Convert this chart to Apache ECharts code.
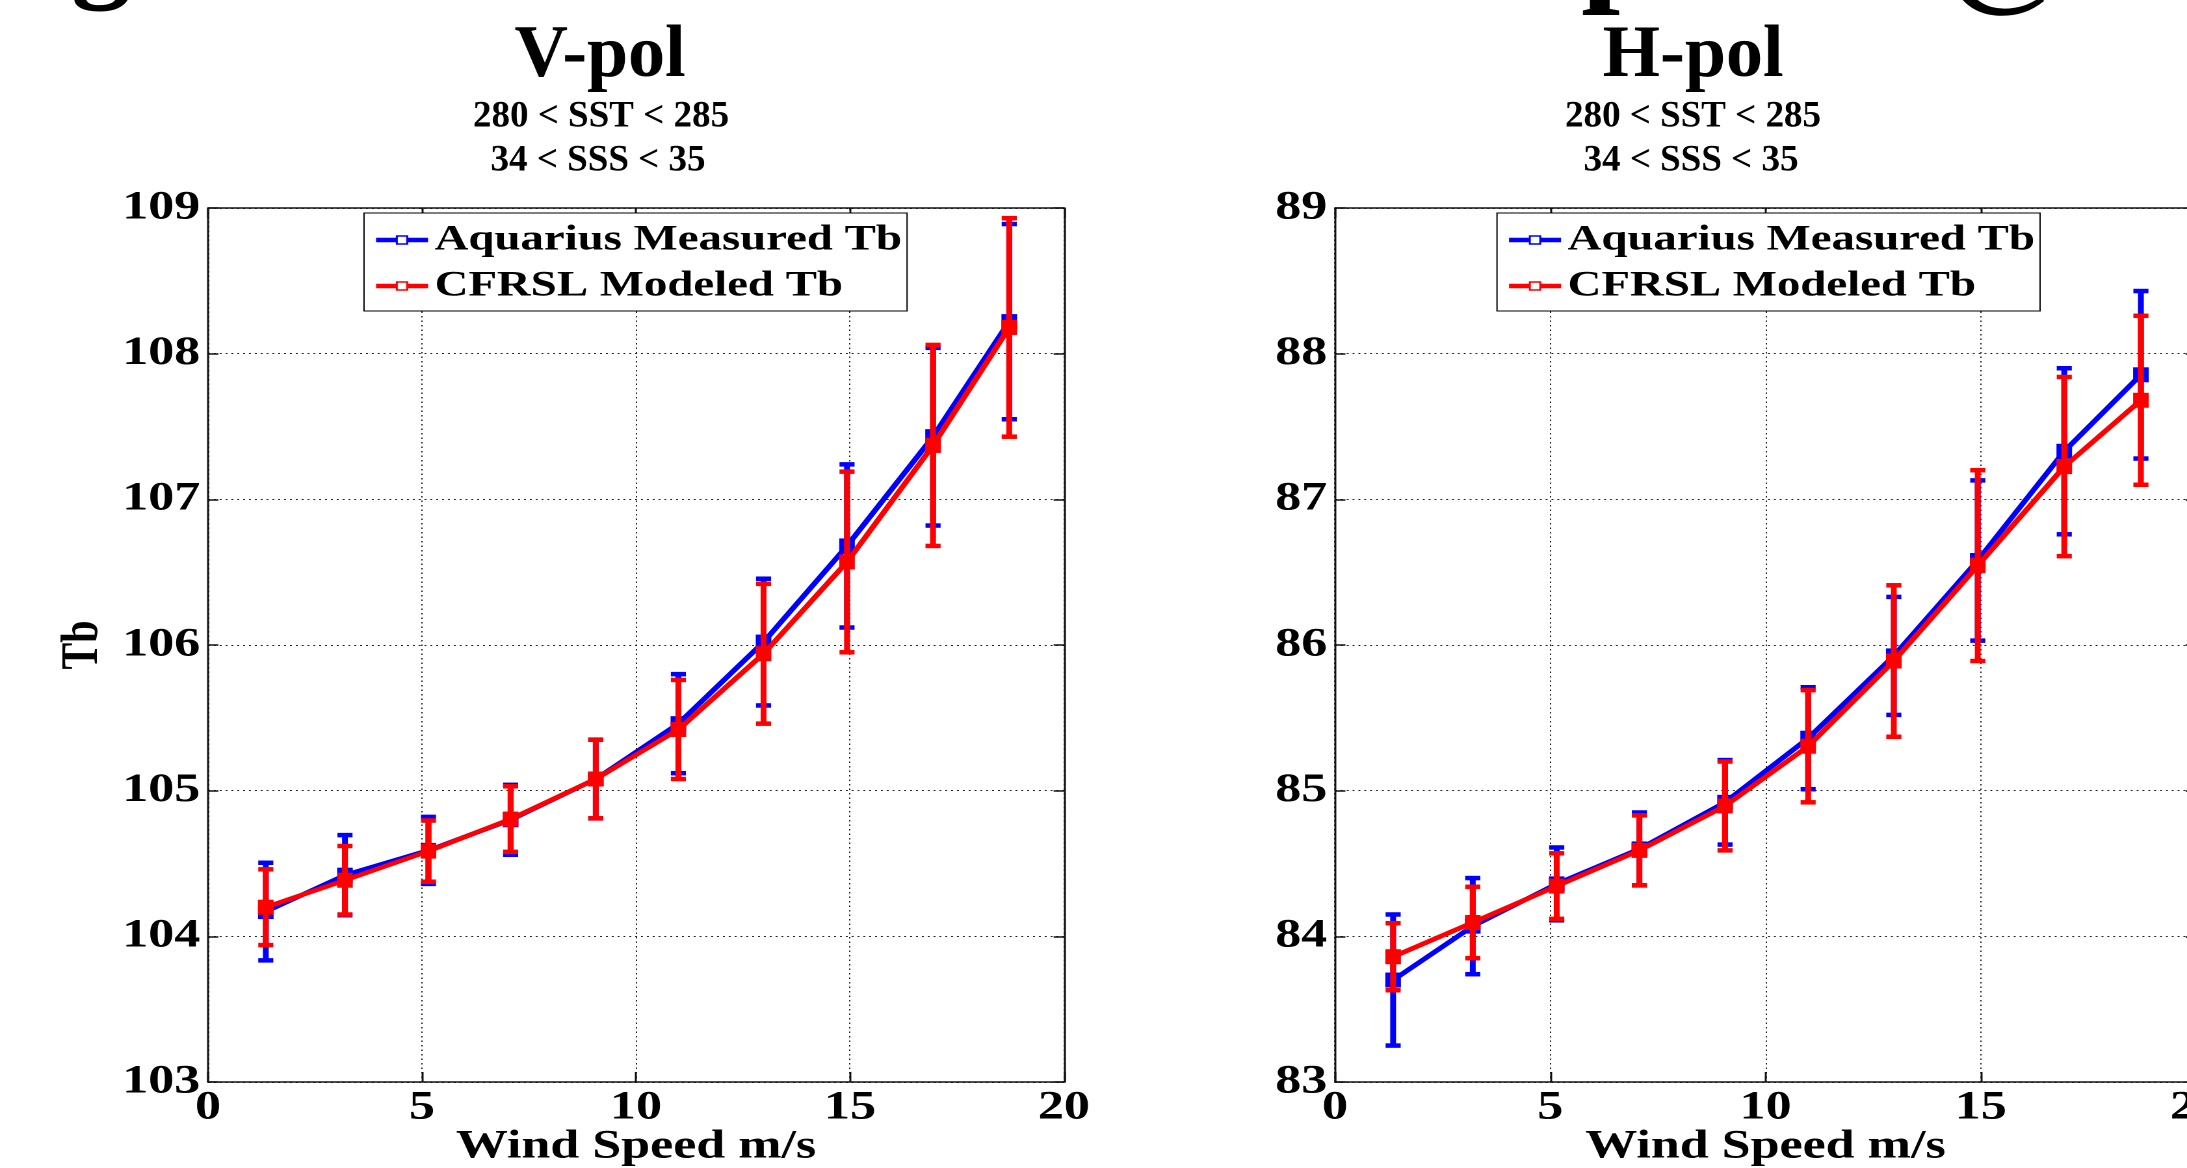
<!DOCTYPE html>
<html>
<head>
<meta charset="utf-8">
<title>Aquarius vs CFRSL Tb</title>
<script src="https://cdn.jsdelivr.net/npm/echarts@6/dist/echarts.min.js"></script>
<style>
  html, body { margin: 0; padding: 0; background: #ffffff; overflow: hidden; }
  #chart { position: absolute; left: 0; top: 0; height: 1168px; transform-origin: 0 0; }
</style>
</head>
<body>
<div id="chart"></div>
<script>
// Bin-centre wind speeds (m/s)
const windSpeed = [1.35, 3.2, 5.15, 7.07, 9.06, 10.99, 12.98, 14.93, 16.94, 18.72];

// V-pol brightness temperatures (K) and error-bar half widths
const vpolMeasured    = [104.17, 104.42, 104.59, 104.80, 105.08, 105.46, 106.02, 106.68, 107.43, 108.22];
const vpolMeasuredErr = [0.335, 0.275, 0.23, 0.24, 0.27, 0.34, 0.435, 0.56, 0.61, 0.67];
const vpolModeled     = [104.20, 104.385, 104.585, 104.805, 105.08, 105.42, 105.94, 106.57, 107.37, 108.18];
const vpolModeledErr  = [0.26, 0.235, 0.21, 0.225, 0.27, 0.34, 0.48, 0.62, 0.69, 0.75];

// H-pol brightness temperatures (K) and error-bar half widths
const hpolMeasured    = [83.70, 84.07, 84.36, 84.60, 84.92, 85.36, 85.925, 86.58, 87.33, 87.855];
const hpolMeasuredErr = [0.45, 0.33, 0.25, 0.25, 0.29, 0.35, 0.405, 0.55, 0.57, 0.575];
const hpolModeled     = [83.86, 84.095, 84.345, 84.59, 84.895, 85.305, 85.89, 86.545, 87.225, 87.68];
const hpolModeledErr  = [0.23, 0.245, 0.225, 0.24, 0.305, 0.385, 0.52, 0.655, 0.615, 0.58];

// Tick values
const windTicks = [0, 5, 10, 15, 20];
const vpolTicks = [103, 104, 105, 106, 107, 108, 109];
const hpolTicks = [83, 84, 85, 86, 87, 88, 89];

const seriesNames = ['Aquarius Measured Tb', 'CFRSL Modeled Tb'];
const panelTitles = ['V-pol', 'H-pol'];
const sstRange = '280 < SST < 285';
const sssRange = '34 < SSS < 35';
const xAxisName = 'Wind Speed m/s';
const yAxisName = 'Tb';

// The figure artwork is drawn narrow and widened horizontally, like a
// stretched figure placed on a slide.
const PAGE_W = 2187;
const W = 1682;
const K = PAGE_W / W;
const px = v => v / K;

const dom = document.getElementById('chart');
dom.style.width = W + 'px';
dom.style.transform = 'scaleX(' + K + ')';

const BLUE = '#0000ff';
const RED = '#ff0000';
const SERIF = '"Liberation Serif", "Times New Roman", serif';
const CAP_HALF = 5.8;

function step(t) { return t[1] - t[0]; }

function errorBars(gridIdx, values, errs, color, z) {
  return {
    type: 'custom',
    xAxisIndex: gridIdx * 2,
    yAxisIndex: gridIdx * 2,
    z: z,
    silent: true,
    data: windSpeed.map((w, i) => [w, values[i] - errs[i], values[i] + errs[i]]),
    encode: { x: 0, y: [1, 2] },
    renderItem: function (params, api) {
      const lo = api.coord([api.value(0), api.value(1)]);
      const hi = api.coord([api.value(0), api.value(2)]);
      const st = { stroke: color, lineWidth: 4.5 };
      return {
        type: 'group',
        children: [
          { type: 'line', shape: { x1: lo[0], y1: lo[1], x2: hi[0], y2: hi[1] }, style: st },
          { type: 'line', shape: { x1: lo[0] - CAP_HALF, y1: lo[1], x2: lo[0] + CAP_HALF, y2: lo[1] }, style: st },
          { type: 'line', shape: { x1: hi[0] - CAP_HALF, y1: hi[1], x2: hi[0] + CAP_HALF, y2: hi[1] }, style: st }
        ]
      };
    }
  };
}

function lineSeries(gridIdx, name, values, color, z) {
  return {
    type: 'line',
    name: name,
    xAxisIndex: gridIdx * 2,
    yAxisIndex: gridIdx * 2,
    z: z,
    data: windSpeed.map((w, i) => [w, values[i]]),
    symbol: 'rect',
    symbolSize: [12, 15],
    showSymbol: true,
    lineStyle: { color: color, width: 4.5 },
    itemStyle: { color: color },
    emphasis: { disabled: true }
  };
}

const labelFont = { fontFamily: SERIF, fontWeight: 'bold', fontSize: 40, color: '#000' };
const frameLine = { color: '#111', width: 1.5 };
const gridDots = { color: '#222', width: 1, type: [1.5, 3] };

function xAxes(gridIdx) {
  const base = {
    gridIndex: gridIdx, type: 'value',
    min: windTicks[0], max: windTicks[windTicks.length - 1], interval: step(windTicks)
  };
  return [
    Object.assign({}, base, {
      position: 'bottom',
      axisLine: { show: true, onZero: false, lineStyle: frameLine },
      axisTick: { show: true, inside: true, length: 10, lineStyle: frameLine },
      axisLabel: Object.assign({ show: true, margin: 6 }, labelFont),
      splitLine: { show: true, lineStyle: gridDots },
      name: xAxisName, nameLocation: 'middle', nameGap: 45, nameMoveOverlap: false,
      nameTextStyle: Object.assign({}, labelFont)
    }),
    Object.assign({}, base, {
      position: 'top',
      axisLine: { show: true, onZero: false, lineStyle: frameLine },
      axisTick: { show: true, inside: true, length: 10, lineStyle: frameLine },
      axisLabel: { show: false },
      splitLine: { show: false }
    })
  ];
}

function yAxes(gridIdx, ticks, withName) {
  const base = {
    gridIndex: gridIdx, type: 'value',
    min: ticks[0], max: ticks[ticks.length - 1], interval: step(ticks)
  };
  const left = Object.assign({}, base, {
    position: 'left',
    axisLine: { show: true, onZero: false, lineStyle: frameLine },
    axisTick: { show: true, inside: true, length: 8, lineStyle: frameLine },
    axisLabel: Object.assign({ show: true, margin: 6 }, labelFont),
    splitLine: { show: true, lineStyle: gridDots }
  });
  if (withName) {
    Object.assign(left, {
      name: yAxisName, nameLocation: 'middle', nameGap: 76, nameRotate: 90, nameMoveOverlap: false,
      nameTextStyle: Object.assign({}, labelFont)
    });
  }
  return [
    left,
    Object.assign({}, base, {
      position: 'right',
      axisLine: { show: true, onZero: false, lineStyle: frameLine },
      axisTick: { show: true, inside: true, length: 8, lineStyle: frameLine },
      axisLabel: { show: false },
      splitLine: { show: false }
    })
  ];
}

function legendBox(leftPx) {
  const colors = [BLUE, RED];
  return {
    left: px(leftPx), top: 213,
    orient: 'vertical',
    data: seriesNames.map((n, i) => ({
      name: n,
      itemStyle: { color: '#ffffff', borderColor: colors[i], borderWidth: 1.5 },
      lineStyle: { color: colors[i], width: 4.5 }
    })),
    selectedMode: false,
    itemWidth: 40, itemHeight: 10, itemGap: 10,
    padding: [9, 4, 7, 7],
    backgroundColor: '#ffffff',
    borderColor: '#000', borderWidth: 1,
    textStyle: { fontFamily: SERIF, fontWeight: 'bold', fontSize: 36, color: '#000' }
  };
}

function heading(text, cx, cy, size) {
  return {
    type: 'text', x: px(cx), y: cy, scaleX: 1 / K, silent: true, z: 50,
    style: {
      text: text, fill: '#000',
      fontFamily: SERIF, fontWeight: 'bold', fontSize: size,
      align: 'center', verticalAlign: 'middle',
      textAlign: 'center', textVerticalAlign: 'middle'
    }
  };
}

const option = {
  animation: false,
  backgroundColor: '#ffffff',
  grid: [
    { left: px(208), top: 208, width: px(856), height: 874, outerBoundsMode: 'none', containLabel: false },
    { left: px(1335), top: 208, width: px(861), height: 874, outerBoundsMode: 'none', containLabel: false }
  ],
  xAxis: xAxes(0).concat(xAxes(1)),
  yAxis: yAxes(0, vpolTicks, true).concat(yAxes(1, hpolTicks, false)),
  legend: [legendBox(364), legendBox(1497)],
  series: [
    lineSeries(0, seriesNames[0], vpolMeasured, BLUE, 3),
    lineSeries(0, seriesNames[1], vpolModeled, RED, 5),
    lineSeries(1, seriesNames[0], hpolMeasured, BLUE, 3),
    lineSeries(1, seriesNames[1], hpolModeled, RED, 5),
    errorBars(0, vpolMeasured, vpolMeasuredErr, BLUE, 2),
    errorBars(0, vpolModeled, vpolModeledErr, RED, 4),
    errorBars(1, hpolMeasured, hpolMeasuredErr, BLUE, 2),
    errorBars(1, hpolModeled, hpolModeledErr, RED, 4)
  ],
  graphic: [
    // lower edge of the large slide heading running above the page
    heading('g', 101, -46, 120),
    heading('p', 1620, -51, 140),
    heading('@', 2008, -47, 140),
    heading(panelTitles[0], 600, 57, 74),
    heading(sstRange, 601, 117, 37),
    heading(sssRange, 598, 161, 37),
    heading(panelTitles[1], 1693, 57, 74),
    heading(sstRange, 1693, 117, 37),
    heading(sssRange, 1691, 161, 37)
  ]
};

const chart = echarts.init(dom, null, { renderer: 'canvas', devicePixelRatio: 2 });
chart.setOption(option);
</script>
</body>
</html>
